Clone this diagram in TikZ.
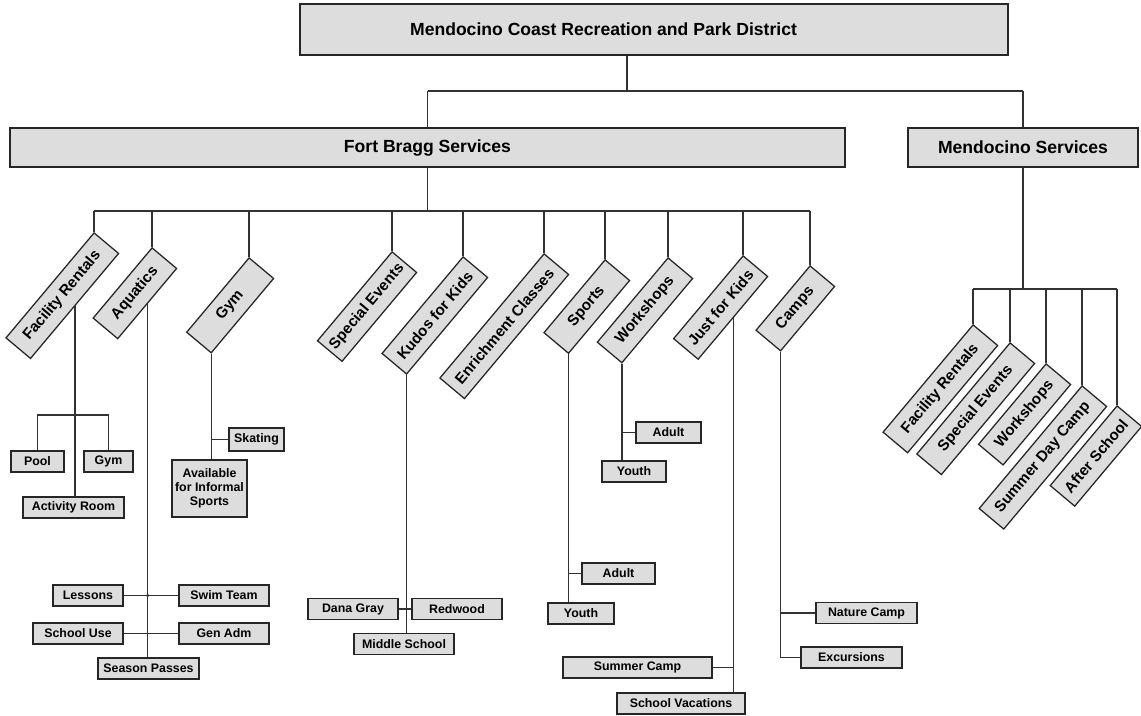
\documentclass[tikz,border=0pt]{standalone}
\usepackage{fontspec}
\setmainfont{Liberation Sans}
\definecolor{boxgray}{RGB}{221,221,221}
\definecolor{linegray}{RGB}{50,50,50}

\begin{document}
\begin{tikzpicture}[x=0.025cm,y=-0.025cm,
  head/.style={draw=black!85,line width=1pt,fill=boxgray,inner sep=0pt,font=\fontsize{12.5}{15}\selectfont\bfseries},
  rbox/.style={draw=black!85,line width=0.9pt,fill=boxgray,rotate=50,anchor=north east,minimum height=0.8cm,inner xsep=2pt,inner ysep=0pt,font=\fontsize{10.8}{13}\selectfont\bfseries},
  sbox/.style={draw=black!85,line width=0.9pt,fill=boxgray,minimum height=0.525cm,inner sep=0pt,font=\fontsize{8.8}{10}\selectfont\bfseries},
  conn/.style={linegray,line width=1pt}]
\useasboundingbox (0,0) rectangle (1141,715);

\node[head,minimum width=17.7cm,minimum height=1.275cm] (district) at (654,29.5) {};
\node[font=\fontsize{12.5}{15}\selectfont\bfseries] (districttext) at (603.5,29.5) {Mendocino Coast Recreation and Park District};
\node[head,minimum width=20.875cm,minimum height=0.975cm] (fortbragg) at (427.5,147.5) {Fort Bragg Services};
\node[head,minimum width=5.75cm,minimum height=0.975cm] (mendo) at (1023,147.5) {Mendocino Services};

\coordinate (topbus) at (627,91);
\draw[conn] (topbus |- district.south) -- (topbus);
\draw[conn] (fortbragg.north |- topbus) -- (mendo.north |- topbus);
\draw[conn] (fortbragg.north |- topbus) -- (fortbragg.north);
\draw[conn] (mendo.north |- topbus) -- (mendo.north);

% Fort Bragg
\node[rbox,minimum width=3.425cm] (frent) at (94,232) {Facility Rentals};
\node[rbox,minimum width=2.29cm] (aqua) at (152,247) {Aquatics};
\node[rbox,minimum width=2.425cm] (gym) at (249,257) {Gym};
\node[rbox,minimum width=2.9cm] (spev) at (392,251) {Special Events};
\node[rbox,minimum width=3.15cm] (kudos) at (463,256) {Kudos for Kids};
\node[rbox,minimum width=4.05cm] (enrich) at (544,253) {Enrichment Classes};
\node[rbox,minimum width=2.375cm] (sports) at (605,259) {Sports};
\node[rbox,minimum width=2.75cm] (wshop) at (668,257) {Workshops};
\node[rbox,minimum width=2.7cm] (jfk) at (743,255) {Just for Kids};
\node[rbox,minimum width=2.1cm] (camps) at (810,265) {Camps};

\coordinate (fbbus) at (427.5,211);
\draw[conn] (fortbragg.south) -- (fbbus);
\draw[conn] (frent.north east |- fbbus) -- (camps.north east |- fbbus);
\foreach \n in {frent,aqua,gym,spev,kudos,enrich,sports,wshop,jfk,camps}
  \draw[conn] (\n.north east |- fbbus) -- (\n.north east);

% Mendocino
\node[rbox,minimum width=3.5cm] (mfrent) at (973,324) {Facility Rentals};
\node[rbox,minimum width=3.625cm] (mspev) at (1010,342) {Special Events};
\node[rbox,minimum width=2.625cm] (mwshop) at (1046,363) {Workshops};
\node[rbox,minimum width=4cm] (msdc) at (1082,385) {Summer Day Camp};
\node[rbox,minimum width=2.6cm] (mafter) at (1117,405) {After School};

\coordinate (msbus) at (1023,289);
\draw[conn] (mendo.south) -- (msbus);
\draw[conn] (mfrent.north east |- msbus) -- (mafter.north east |- msbus);
\foreach \n in {mfrent,mspev,mwshop,msdc,mafter}
  \draw[conn] (\n.north east |- msbus) -- (\n.north east);

% facility rentals
\node[sbox,minimum width=1.325cm] (pool) at (37.5,461.5) {Pool};
\node[sbox,minimum width=1.225cm] (fgym) at (108.5,461.5) {Gym};
\node[sbox,minimum width=2.525cm] (actroom) at (73.5,507.5) {Activity Room};
\coordinate (frj) at (75,415);
\draw[conn] (frent.south) -- (frent.south |- actroom.north);
\draw[conn] (pool.north) |- (frj) -| (fgym.north);
\fill[linegray] (frent.south |- frj) circle (1.3pt);

% aquatics
\node[sbox,minimum width=1.75cm] (lessons) at (88,595.5) {Lessons};
\node[sbox,minimum width=2.25cm] (swim) at (224,595.5) {Swim Team};
\node[sbox,minimum width=2.25cm] (school) at (78,633.5) {School Use};
\node[sbox,minimum width=2.25cm] (genadm) at (224,633.5) {Gen Adm};
\node[sbox,minimum width=2.525cm] (season) at (148.5,668.5) {Season Passes};
\draw[conn] (aqua.south) -- (aqua.south |- season.north);
\draw[conn] (lessons.east) -- (swim.west);
\draw[conn] (school.east) -- (genadm.west);
\fill[linegray] (aqua.south |- lessons.east) circle (1.3pt);

% gym
\node[sbox,minimum width=1.375cm,minimum height=0.575cm] (skating) at (256.5,439.5) {Skating};
\node[sbox,minimum width=1.875cm,minimum height=1.425cm,align=center] (avail) at (209.5,488.5) {Available\\for Informal\\Sports};
\draw[conn] (gym.south west) -- (gym.south west |- avail.north);
\draw[conn] (skating.west) -- (skating.west -| gym.south west);

% kudos for kids
\node[sbox,minimum width=2.25cm] (dana) at (353,609) {Dana Gray};
\node[sbox,minimum width=2.25cm] (redwood) at (457,609) {Redwood};
\node[sbox,minimum width=2.5cm] (middle) at (404,644) {Middle School};
\draw[conn] (kudos.south west) -- (kudos.south west |- middle.north);
\draw[conn] (dana.east) -- (redwood.west);

% workshops
\node[sbox,minimum width=1.625cm] (wadult) at (668.5,432.5) {Adult};
\node[sbox,minimum width=1.6cm] (wyouth) at (634,471.5) {Youth};
\draw[conn] (wshop.south west) -- (wshop.south west |- wyouth.north);
\draw[conn] (wadult.west) -- (wadult.west -| wshop.south west);

% sports
\node[sbox,minimum width=1.825cm] (sadult) at (618.5,573.5) {Adult};
\node[sbox,minimum width=1.65cm] (syouth) at (581,613.5) {Youth};
\draw[conn] (sports.south west) -- (sports.south west |- syouth.north);
\draw[conn] (sadult.west) -- (sadult.west -| sports.south west);

% just for kids
\node[sbox,minimum width=3.725cm] (summer) at (637.5,667.5) {Summer Camp};
\node[sbox,minimum width=3.2cm] (vacation) at (681,703.5) {School Vacations};
\draw[conn] (jfk.south) -- (jfk.south |- vacation.north);
\draw[conn] (summer.east) -- (summer.east -| jfk.south);

% camps
\node[sbox,minimum width=2.525cm] (nature) at (866.5,613) {Nature Camp};
\node[sbox,minimum width=2.525cm] (excursions) at (851.5,657.5) {Excursions};
\draw[conn] (camps.south west) |- (excursions.west);
\draw[conn] (nature.west) -- (nature.west -| camps.south west);

\end{tikzpicture}
\end{document}
